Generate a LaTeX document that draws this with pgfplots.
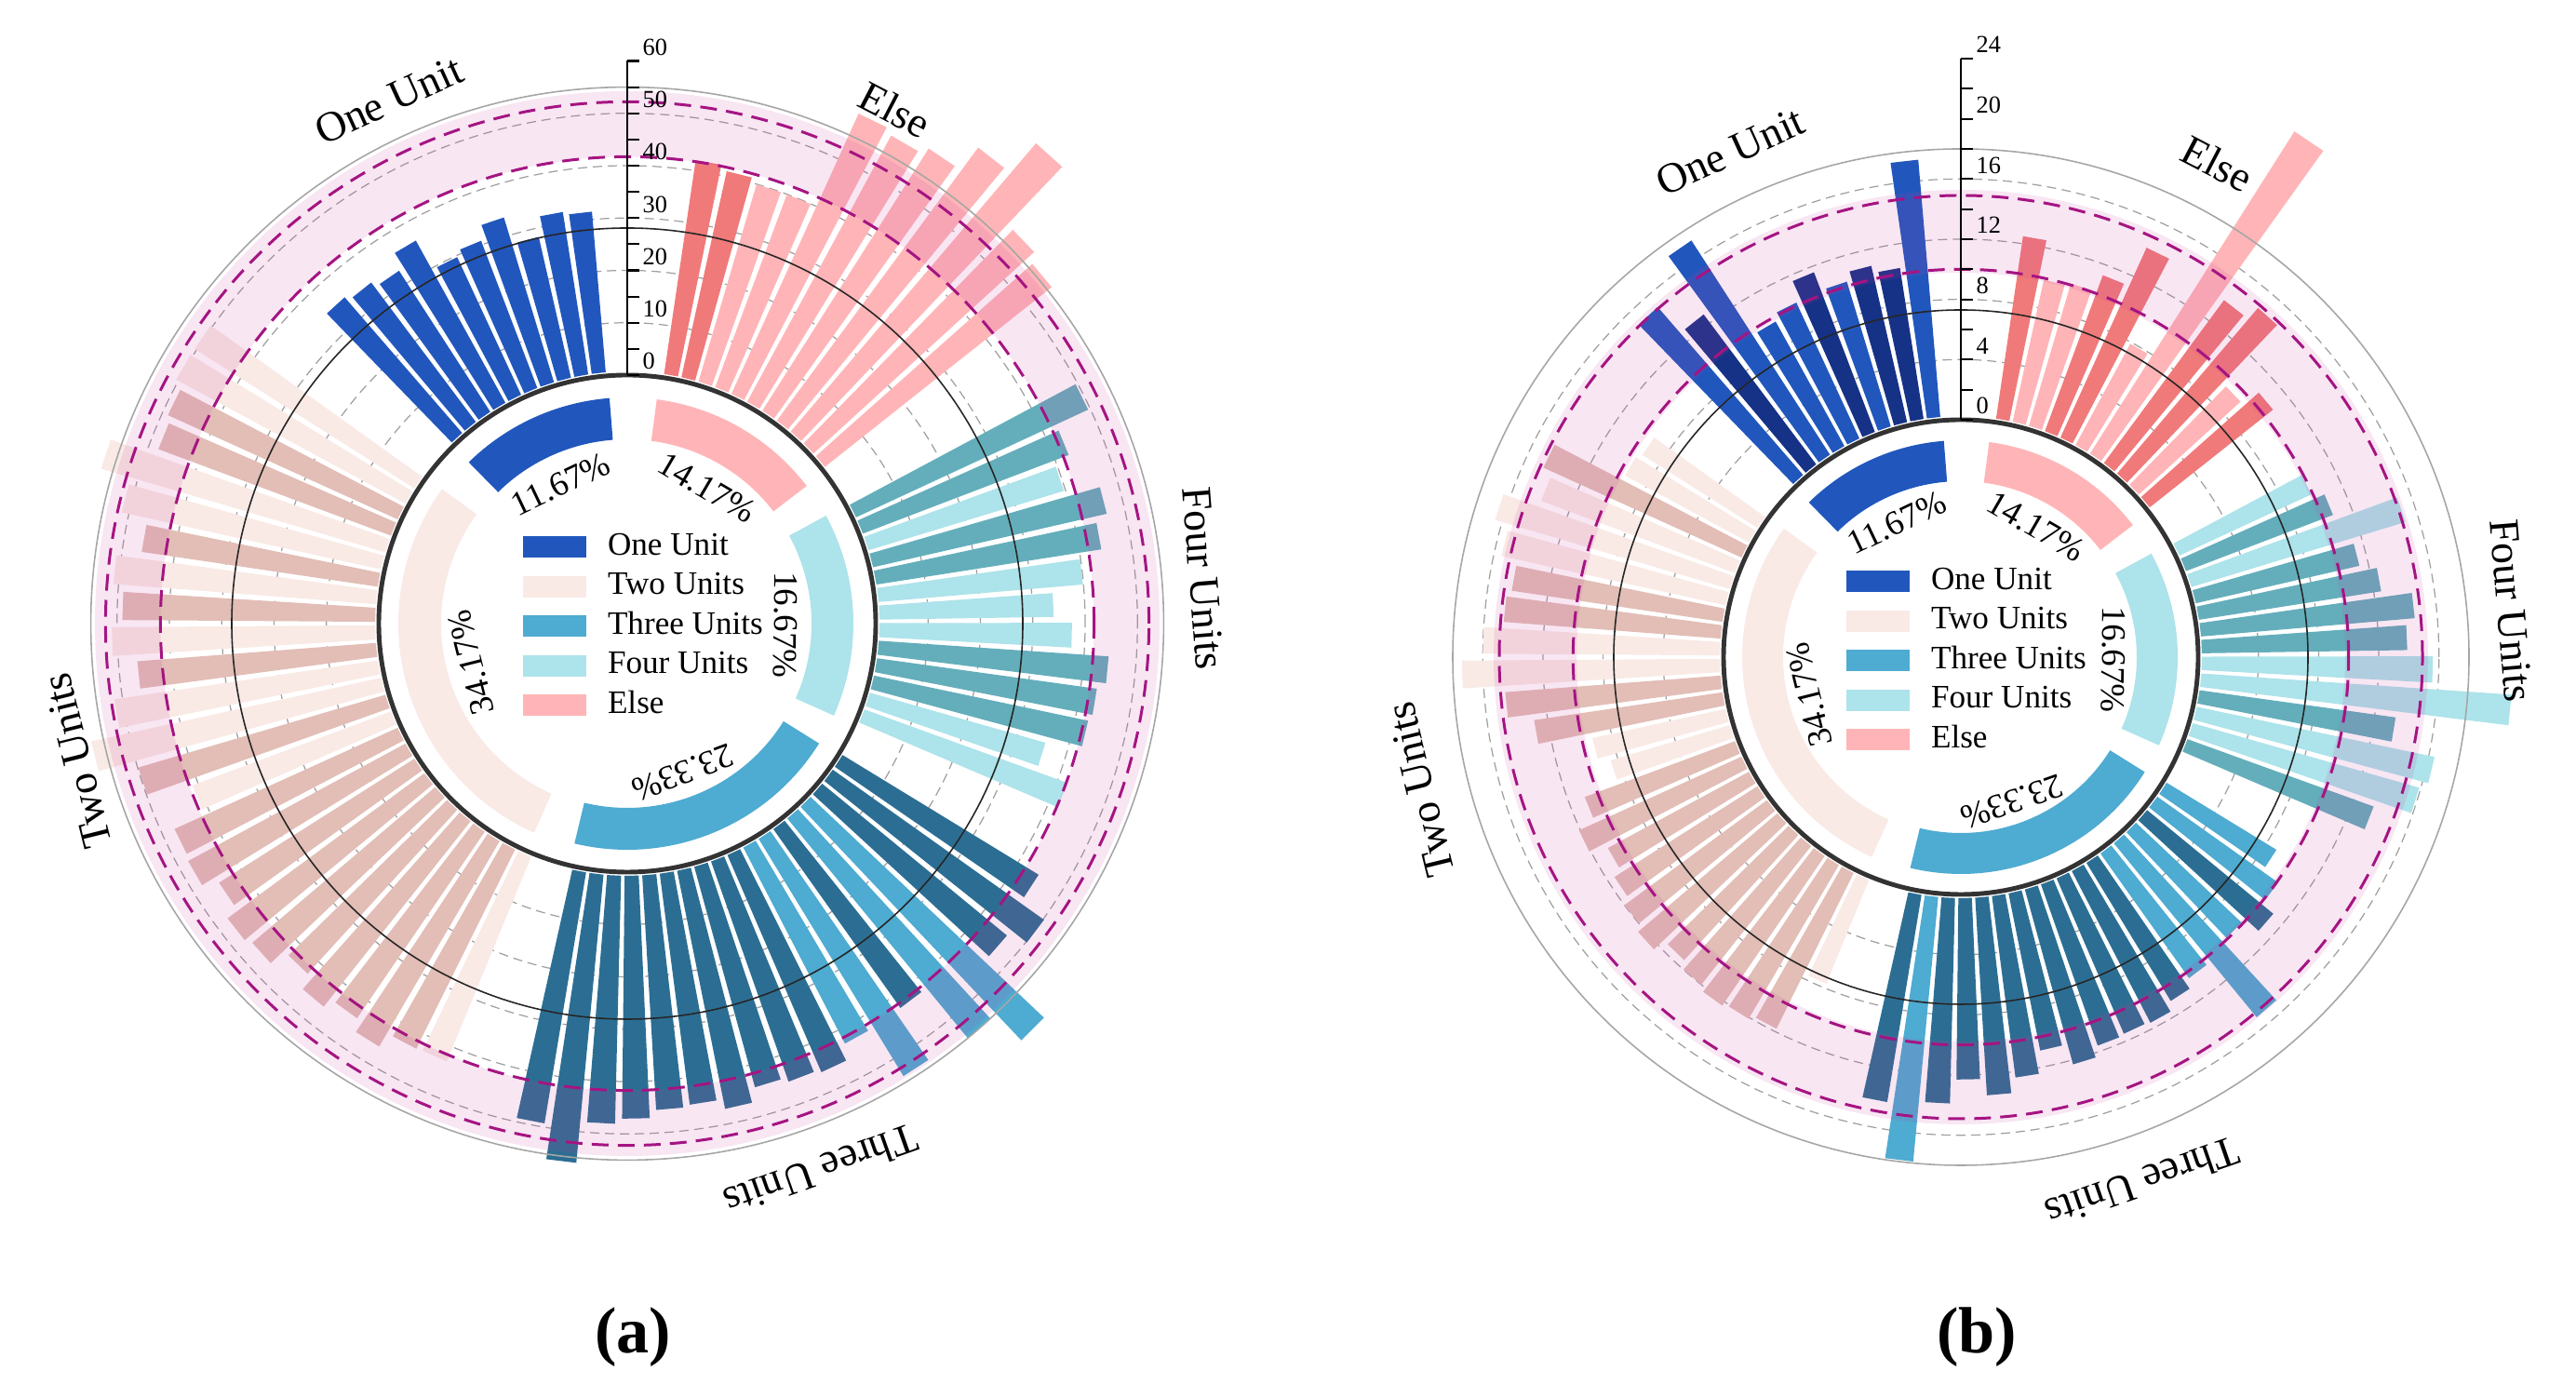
\documentclass[border=0pt]{standalone}
\usepackage{fontspec}
\setmainfont{Liberation Serif}
\usepackage{pgfplots}
\pgfplotsset{compat=1.18}
\usepackage{pgfplotstable}
\usepgfplotslibrary{polar}

\definecolor{oneA}{RGB}{33,87,189}
\definecolor{oneB}{RGB}{22,50,135}
\definecolor{twoA}{RGB}{226,190,182}
\definecolor{twoB}{RGB}{249,234,230}
\definecolor{thrA}{RGB}{44,110,147}
\definecolor{thrB}{RGB}{78,171,209}
\definecolor{fouA}{RGB}{100,174,187}
\definecolor{fouB}{RGB}{173,227,234}
\definecolor{elsA}{RGB}{240,122,122}
\definecolor{elsB}{RGB}{255,181,183}
\definecolor{bandc}{RGB}{200,60,160}
\definecolor{magc}{RGB}{165,20,130}

\newcommand\gfont{\fontsize{13}{13}\selectfont}
\newcommand\pfont{\fontsize{10.5}{10.5}\selectfont}
\newcommand\tfont{\fontsize{7.5}{7.5}\selectfont}

% ---------------- data (a) : t = angle clockwise from north, v = value, c = shade
\pgfplotstableread{
t v c
10 42 0
14 41 0
18 40 1
22 40 1
26 59.5 1
30 58.5 1
34 60 1
38 65.5 1
42 73 1
46 57.8 1
50 56 1
}\aElse
\pgfplotstableread{
t v c
63.5 49.6 0
67.5 42.8 0
71.5 39.7 1
75.5 46.5 0
79.5 44.2 0
83.5 39.9 1
87.5 34 1
91.5 37.5 1
95.5 44.7 0
99.5 43.1 0
103.5 42.5 0
107.5 35.6 1
111.5 41.9 1
}\aFour
\pgfplotstableread{
t v c
123 44.6 0
127 50.2 0
131 46.4 0
135 62.1 1
139 55.1 1
143 42.6 0
147 53.8 1
151 42.9 1
155 45.9 0
159 45.3 0
163 44.4 0
167 47.1 0
171 45.2 0
175 45.6 0
179 47.1 0
183 48.1 0
187 56 0
191 49.3 0
}\aThree
\pgfplotstableread{
t v c
204 43 1
208 43.2 0
212 46.2 0
216 43.9 0
220 45.9 0
224 43.1 0
228 46.6 0
232 47.4 0
236 44.9 0
240 47.9 0
244 47.5 0
248 41.2 1
252 49.9 0
256 57.4 1
260 51.6 1
264 46.4 0
268 51 1
272 49 0
276 51 1
280 46.3 0
284 51.4 1
288 57.3 1
292 48.1 0
296 48.9 0
300 50.5 1
304 50.4 1
}\aTwo
\pgfplotstableread{
t v c
317.5 35 0
321.5 34 0
325.5 32.8 0
329.5 36.1 0
333.5 29.7 0
337.5 30.8 0
341.5 33.6 0
345.5 28.3 0
349.5 32.1 0
353.5 31.5 0
}\aOne

% ---------------- data (b)
\pgfplotstableread{
t v c
10 12.5 0
14 9.9 1
18 10.1 1
22 11.3 0
26 14.1 0
30 7.9 1
34 25.6 1
38 13.7 0
42 14.7 0
46 9.4 1
50 10.7 0
}\bElse
\pgfplotstableread{
t v c
63.5 9.9 1
67.5 10.7 0
71.5 15.1 1
75.5 11.4 0
79.5 12.5 0
83.5 14.5 0
87.5 13.9 0
91.5 15.6 1
95.5 20.9 1
99.5 13.4 0
103.5 16.4 1
107.5 15.9 1
111.5 13.4 0
}\bFour
\pgfplotstableread{
t v c
123 8.8 1
127 10.1 1
131 11.1 0
135 9.9 1
139 15.2 1
143 10.4 1
147 11.0 0
151 11.6 0
155 11.5 0
159 11.6 0
163 12.3 0
167 10.9 0
171 12.4 0
175 13.4 0
179 12.3 0
183 13.9 0
187 17.9 1
191 14.2 0
}\bThree
\pgfplotstableread{
t v c
204 7.7 1
208 11.8 0
212 12.1 0
216 12.3 0
220 12 0
224 11.5 0
228 12.4 0
232 12 0
236 11.5 0
240 10.9 0
244 12.1 0
248 10.9 0
252 8.5 1
256 9.3 1
260 12.9 0
264 14.6 0
268 17.4 1
272 16 1
276 14.7 0
280 14.4 0
284 15.5 1
288 16.5 1
292 14 1
296 14.7 0
300 9.6 1
304 9.3 1
}\bTwo
\pgfplotstableread{
t v c
317.5 15.0 0
321.5 12.7 1
325.5 17.2 0
329.5 9.7 0
333.5 10.2 0
337.5 11.6 1
341.5 10.3 0
345.5 10.9 1
349.5 10.4 1
353.5 17.4 0
}\bOne

% bars as wedges: #1 table, #2 inner radius, #3 length per unit, #4/#5 colours
\newcommand\drawbars[5]{%
  \pgfplotstablegetrowsof{#1}%
  \pgfmathtruncatemacro\nrows{\pgfplotsretval-1}%
  \pgfplotsforeachungrouped \i in {0,...,\nrows}{%
    \pgfplotstablegetelem{\i}{t}\of{#1}\let\bt\pgfplotsretval
    \pgfplotstablegetelem{\i}{v}\of{#1}\let\bv\pgfplotsretval
    \pgfplotstablegetelem{\i}{c}\of{#1}\let\bc\pgfplotsretval
    \pgfmathsetmacro\pa{90-\bt+1.6}%
    \pgfmathsetmacro\pb{90-\bt-1.6}%
    \pgfmathsetmacro\rb{#2+4}%
    \pgfmathsetmacro\rr{#2+#3*\bv}%
    \ifnum\bc=0 \def\bcol{#4}\else\def\bcol{#5}\fi
    \edef\temp{\noexpand\addplot[data cs=polar, draw=none, fill=\bcol, forget plot] coordinates {(\pa,\rb) (\pa,\rr) (\pb,\rr) (\pb,\rb)};}%
    \temp
  }%
}
% percentage arc: colour, theta1, theta2, r1, r2
\newcommand\parc[5]{%
  \fill[#1] ({90-#2}:#4) arc[start angle={90-#2}, end angle={90-#3}, radius=#4]
     -- ({90-#3}:#5) arc[start angle={90-#3}, end angle={90-#2}, radius=#5] -- cycle;}
\newcommand\plab[3]{\node[rotate={-#1}, font=\pfont, inner sep=0pt] at ({90-#1}:#2) {#3};}
\newcommand\glab[3]{\node[rotate={-#1}, font=\gfont, inner sep=0pt, anchor=base] at ({90-#1}:#2) {#3};}

\pgfplotsset{radleg/.style={
  hide axis, clip=false, x=0.1mm, y=0.1mm,
  xmin=-700, xmax=700, ymin=-700, ymax=700, anchor=south west,
  legend style={anchor=west, draw=none, fill=none, inner sep=0pt, outer sep=0pt,
    font=\fontsize{10}{10}\selectfont, row sep=0.15mm, column sep=2mm,
    nodes={text height=2.6mm, text depth=0.9mm, inner sep=0.3mm}},
  legend cell align=left,
  legend image code/.code={\fill[##1, draw=none] (0mm,-1.15mm) rectangle (6.8mm,1.15mm);},
}}

\begin{document}
\begin{tikzpicture}
\path (0,0) rectangle (276.8mm,150.2mm);

% ================= chart (a) =================
\begin{scope}[shift={(67.4mm,83.2mm)}, x=0.1mm, y=0.1mm]
  \foreach \r in {323.25,379.5,435.75,492,548.25}
    \draw[gray!75, line width=0.35pt, dash pattern=on 1mm off 0.6mm] (0,0) circle[radius=\r];
\end{scope}
\begin{axis}[radleg, at={(-2.6mm,13.2mm)}, legend style={at={(axis cs:-112,-3)}}]
  \drawbars{\aElse}{267}{5.625}{elsA}{elsB}
  \drawbars{\aFour}{267}{5.625}{fouA}{fouB}
  \drawbars{\aThree}{267}{5.625}{thrA}{thrB}
  \drawbars{\aTwo}{267}{5.625}{twoA}{twoB}
  \drawbars{\aOne}{267}{5.625}{oneA}{oneA}
  \addlegendimage{fill=oneA}\addlegendentry{One Unit}
  \addlegendimage{fill=twoB}\addlegendentry{Two Units}
  \addlegendimage{fill=thrB}\addlegendentry{Three Units}
  \addlegendimage{fill=fouB}\addlegendentry{Four Units}
  \addlegendimage{fill=elsB}\addlegendentry{Else}
\end{axis}
\begin{scope}[shift={(67.4mm,83.2mm)}, x=0.1mm, y=0.1mm]
  \fill[bandc, opacity=0.13, even odd rule] (0,0) circle[radius=572] (0,0) circle[radius=501.6];
  \draw[black!85, line width=0.45pt] (0,0) circle[radius=425];
  \draw[magc, line width=0.85pt, dash pattern=on 1.8mm off 1mm] (0,0) circle[radius=501.6];
  \draw[magc, line width=0.85pt, dash pattern=on 1.8mm off 1mm] (0,0) circle[radius=560.6];
  \draw[gray!70, line width=0.45pt] (0,0) circle[radius=576.4];
  \draw[black!80, line width=1.4pt] (0,0) circle[radius=267];
  \parc{oneA}{315.5}{355.5}{198}{243}
  \parc{elsB}{7.5}{52.5}{198}{243}
  \parc{fouB}{61.5}{114}{198}{243}
  \parc{thrB}{122}{193.5}{198}{243}
  \parc{twoB}{204}{306}{200}{246}
  \plab{334.5}{166}{11.67\%}
  \plab{30.5}{169}{14.17\%}
  \plab{90.5}{170}{16.67\%}
  \plab{159.5}{171}{23.33\%}
  \plab{256}{173}{34.17\%}
  \draw[line width=0.6pt] (0,267) -- (0,604.5);
  \foreach \v in {0,5,...,60}{\draw[line width=0.6pt] (0,{267+5.625*\v}) -- (13,{267+5.625*\v});}
  \foreach \v in {0,10,...,60}{\node[anchor=base west, inner sep=0pt, font=\tfont] at (16,{267+5.625*\v+6}) {\v};}
  \glab{335.5}{603}{One Unit}
  \glab{27.5}{607}{Else}
  \glab{85.5}{606}{Four Units}
  \glab{160.5}{608}{Three Units}
  \glab{256}{594}{Two Units}
\end{scope}
\node[font=\fontsize{20}{20}\selectfont\bfseries] at (68mm,6.5mm) {(a)};

% ================= chart (b) =================
\begin{scope}[shift={(210.7mm,79.6mm)}, x=0.1mm, y=0.1mm]
  \foreach \r in {319.7,384.4,449,513.7}
    \draw[gray!75, line width=0.35pt, dash pattern=on 1mm off 0.6mm] (0,0) circle[radius=\r];
\end{scope}
\begin{axis}[radleg, at={(140.7mm,9.6mm)}, legend style={at={(axis cs:-123,-4)}}]
  \drawbars{\bElse}{255}{16.17}{elsA}{elsB}
  \drawbars{\bFour}{255}{16.17}{fouA}{fouB}
  \drawbars{\bThree}{255}{16.17}{thrA}{thrB}
  \drawbars{\bTwo}{255}{16.17}{twoA}{twoB}
  \drawbars{\bOne}{255}{16.17}{oneA}{oneB}
  \addlegendimage{fill=oneA}\addlegendentry{One Unit}
  \addlegendimage{fill=twoB}\addlegendentry{Two Units}
  \addlegendimage{fill=thrB}\addlegendentry{Three Units}
  \addlegendimage{fill=fouB}\addlegendentry{Four Units}
  \addlegendimage{fill=elsB}\addlegendentry{Else}
\end{axis}
\begin{scope}[shift={(210.7mm,79.6mm)}, x=0.1mm, y=0.1mm]
  \fill[bandc, opacity=0.13, even odd rule] (0,0) circle[radius=502] (0,0) circle[radius=413];
  \draw[black!85, line width=0.45pt] (0,0) circle[radius=373];
  \draw[magc, line width=0.85pt, dash pattern=on 1.8mm off 1mm] (0,0) circle[radius=416.7];
  \draw[magc, line width=0.85pt, dash pattern=on 1.8mm off 1mm] (0,0) circle[radius=496];
  \draw[gray!70, line width=0.45pt] (0,0) circle[radius=546];
  \draw[black!80, line width=1.4pt] (0,0) circle[radius=255];
  \parc{oneA}{315.5}{355.5}{189}{233}
  \parc{elsB}{7.5}{52.5}{189}{233}
  \parc{fouB}{61.5}{114}{189}{233}
  \parc{thrB}{122}{193.5}{189}{233}
  \parc{twoB}{204}{306}{191}{235}
  \plab{334.5}{160}{11.67\%}
  \plab{30}{162}{14.17\%}
  \plab{91}{164}{16.67\%}
  \plab{160.5}{165}{23.33\%}
  \plab{256}{168}{34.17\%}
  \draw[line width=0.6pt] (0,255) -- (0,643);
  \foreach \v in {0,2,...,24}{\draw[line width=0.6pt] (0,{255+16.17*\v}) -- (13,{255+16.17*\v});}
  \foreach \v in {0,4,...,24}{\node[anchor=base west, inner sep=0pt, font=\tfont] at (16,{255+16.17*\v+6}) {\v};}
  \glab{335.5}{582}{One Unit}
  \glab{27.5}{582}{Else}
  \glab{85.2}{579}{Four Units}
  \glab{160.9}{582}{Three Units}
  \glab{256.2}{583}{Two Units}
\end{scope}
\node[font=\fontsize{20}{20}\selectfont\bfseries] at (212.4mm,6.5mm) {(b)};

\pgfresetboundingbox
\path[use as bounding box] (0,0) rectangle (276.8mm,150.2mm);
\end{tikzpicture}
\end{document}
